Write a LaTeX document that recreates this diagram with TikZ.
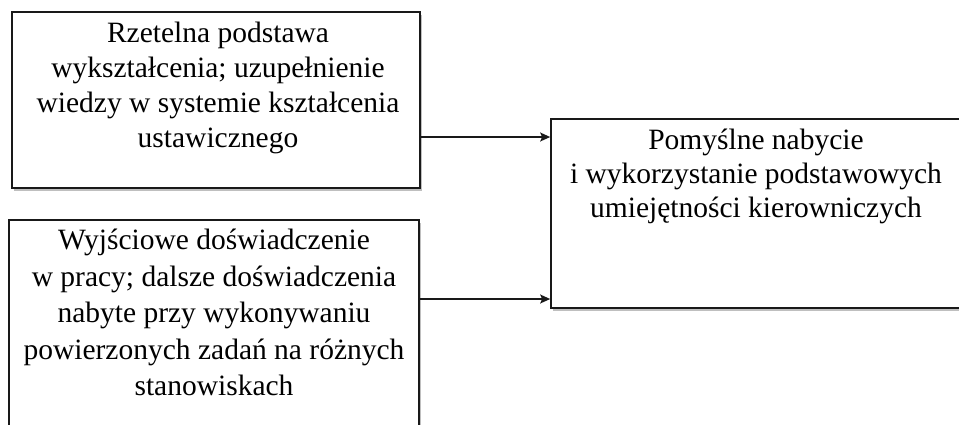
\documentclass[tikz,border=0pt]{standalone}
\usepackage{fontspec}
\setmainfont{Liberation Serif}
\usetikzlibrary{arrows.meta,shadows}
\tikzset{
  box/.style={draw=black!90, line width=1.7pt, fill=white, rectangle, inner sep=0pt,
    drop shadow={shadow xshift=2pt, shadow yshift=-2.5pt, fill=black!25, opacity=1}},
  txt/.style={align=center, inner sep=0pt, anchor=north, text=black,
    font=\fontsize{29.5}{35}\selectfont},
  conn/.style={draw=black!90, line width=1.4pt, -{Stealth[length=10pt,width=9pt,inset=2pt]}}
}
\begin{document}
\begin{tikzpicture}[x=1pt,y=-1pt]
\clip (0,0) rectangle (959,424);
\fill[white] (0,0) rectangle (959,424);
\node[box, minimum width=408pt, minimum height=176pt] (tl) at (216,100) {};
\node[box, minimum width=410pt, minimum height=230pt] (bl) at (214,335) {};
\node[box, minimum width=411pt, minimum height=189pt] (rb) at (756.5,213.5) {};
\node[txt] (tlt) at (218,22) {Rzetelna podstawa\\wykształcenia; uzupełnienie\\wiedzy w systemie kształcenia\\ustawicznego};
\node[txt, font=\fontsize{29.5}{36.5}\selectfont] (blt) at (214,229) {Wyjściowe doświadczenie\\w pracy; dalsze doświadczenia\\nabyte przy wykonywaniu\\powierzonych zadań na różnych\\stanowiskach};
\node[txt, font=\fontsize{29.5}{34}\selectfont] (rbt) at (756,129) {Pomyślne nabycie\\i wykorzystanie podstawowych\\umiejętności kierowniczych};
\coordinate (a1) at (0,137);
\coordinate (a2) at (0,299);
\draw[conn] (tl.east |- a1) -- (rb.west |- a1);
\draw[conn] (bl.east |- a2) -- (rb.west |- a2);
\end{tikzpicture}
\end{document}
